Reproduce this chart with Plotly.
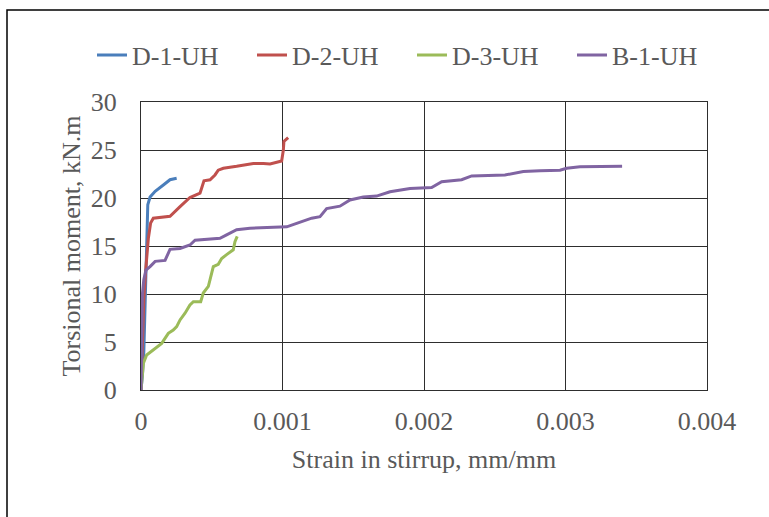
import plotly.graph_objects as go

# ---- data ----
d1_strain = [0, 0.00001, 0.00002, 0.00003, 0.00004, 0.000048, 0.000064, 0.0001, 0.000158, 0.000205, 0.000252]
d1_moment = [0, 1.5, 4.0, 9.0, 15.0, 19.3, 20.1, 20.7, 21.35, 21.9, 22.05]

d2_strain = [0, 0.000008, 0.00002, 0.000035, 0.000045, 0.000052, 0.000068, 0.000087, 0.000205, 0.000228,
             0.000276, 0.000346, 0.000417, 0.00043, 0.000445, 0.000488, 0.000523, 0.000546, 0.000582,
             0.000676, 0.000794, 0.000865, 0.000912, 0.000994, 0.001006, 0.00101, 0.00104]
d2_moment = [0, 5.0, 9.5, 12.8, 15.3, 15.8, 17.4, 17.9, 18.1, 18.4,
             19.1, 20.05, 20.5, 21.1, 21.8, 21.9, 22.4, 22.9, 23.1,
             23.3, 23.6, 23.6, 23.55, 23.85, 25.0, 25.9, 26.3]

d3_strain = [0, 0.000008, 0.000017, 0.00004, 0.000087, 0.000146, 0.000193, 0.000228, 0.000252, 0.000276,
             0.000311, 0.000346, 0.00037, 0.000422, 0.00044, 0.000476, 0.000488, 0.000511, 0.000546,
             0.00057, 0.000605, 0.000652, 0.000664, 0.00068]
d3_moment = [0, 1.5, 2.8, 3.65, 4.17, 4.86, 5.9, 6.25, 6.6, 7.3,
             8.0, 8.85, 9.2, 9.2, 10.1, 10.8, 11.5, 12.85, 13.1,
             13.7, 14.1, 14.6, 15.45, 16.0]

b1_strain = [0, 0.000004, 0.00001, 0.00002, 0.000035, 0.000064, 0.0001, 0.00017, 0.000193, 0.000205,
             0.000276, 0.000346, 0.000382, 0.000464, 0.000558, 0.000605, 0.000676, 0.00077, 0.000912,
             0.00103, 0.0011, 0.001147, 0.001206, 0.001265, 0.001312, 0.001406, 0.001477, 0.001571,
             0.001665, 0.00176, 0.001901, 0.002054, 0.002125, 0.002266, 0.002337, 0.002572, 0.002702,
             0.00282, 0.002961, 0.003008, 0.003102, 0.0034]
b1_moment = [0, 5.0, 10.0, 11.5, 12.5, 12.85, 13.4, 13.5, 14.2, 14.65,
             14.75, 15.1, 15.6, 15.7, 15.8, 16.15, 16.7, 16.85, 16.95,
             17.0, 17.35, 17.6, 17.9, 18.05, 18.9, 19.15, 19.8, 20.1,
             20.2, 20.65, 21.0, 21.1, 21.7, 21.9, 22.3, 22.4, 22.75,
             22.85, 22.9, 23.1, 23.25, 23.3]

series_names = ["D-1-UH", "D-2-UH", "D-3-UH", "B-1-UH"]
series_colors = ["#4A7EBB", "#C0504D", "#9BBB59", "#8064A2"]

x_tick_vals = [0, 0.001, 0.002, 0.003, 0.004]
x_tick_text = ["0", "0.001", "0.002", "0.003", "0.004"]
y_tick_vals = [0, 5, 10, 15, 20, 25, 30]

FONT = "Liberation Serif, Times New Roman, serif"
TXT = "#595959"
GRID = "#2e2e2e"

fig = go.Figure()
for name, color, xs, ys in zip(series_names, series_colors,
                               [d1_strain, d2_strain, d3_strain, b1_strain],
                               [d1_moment, d2_moment, d3_moment, b1_moment]):
    fig.add_trace(go.Scatter(x=xs, y=ys, mode="lines", name=name,
                             line=dict(color=color, width=3)))

# outer chart border (cropped on right and bottom in the reference)
fig.add_shape(type="rect", xref="paper", yref="paper",
              x0=(7 - 141) / 566, x1=2.0, y0=-2.0, y1=(390 - 10) / 288,
              line=dict(color="#000000", width=1.5), fillcolor="rgba(0,0,0,0)", layer="below")

fig.update_layout(
    width=769, height=517,
    paper_bgcolor="white", plot_bgcolor="white",
    margin=dict(l=141, r=62, t=102, b=127, autoexpand=False),
    font=dict(family=FONT, size=26, color=TXT),
    showlegend=True,
    legend=dict(orientation="h", x=(92 - 141) / 566, xanchor="left",
                y=(390 - 55) / 288, yanchor="middle",
                entrywidth=115, entrywidthmode="pixels",
                font=dict(family=FONT, size=26, color=TXT),
                bgcolor="rgba(0,0,0,0)", traceorder="normal"),
    xaxis=dict(range=[0, 0.004], tickvals=x_tick_vals, ticktext=x_tick_text,
               showgrid=True, gridcolor=GRID, gridwidth=1,
               showline=True, linecolor=GRID, linewidth=1, mirror=True,
               zeroline=False, ticks="", ticklabelstandoff=8,
               tickfont=dict(family=FONT, size=26, color=TXT),
               title=dict(text="Strain in stirrup, mm/mm", standoff=14,
                          font=dict(family=FONT, size=26, color=TXT))),
    yaxis=dict(range=[0, 30], tickvals=y_tick_vals,
               showgrid=True, gridcolor=GRID, gridwidth=1,
               showline=True, linecolor=GRID, linewidth=1, mirror=True,
               zeroline=False, ticks="", ticklabelstandoff=18,
               tickfont=dict(family=FONT, size=26, color=TXT),
               title=dict(text="Torsional moment, kN.m", standoff=2,
                          font=dict(family=FONT, size=26, color=TXT))),
)

fig.write_html("out.html")
